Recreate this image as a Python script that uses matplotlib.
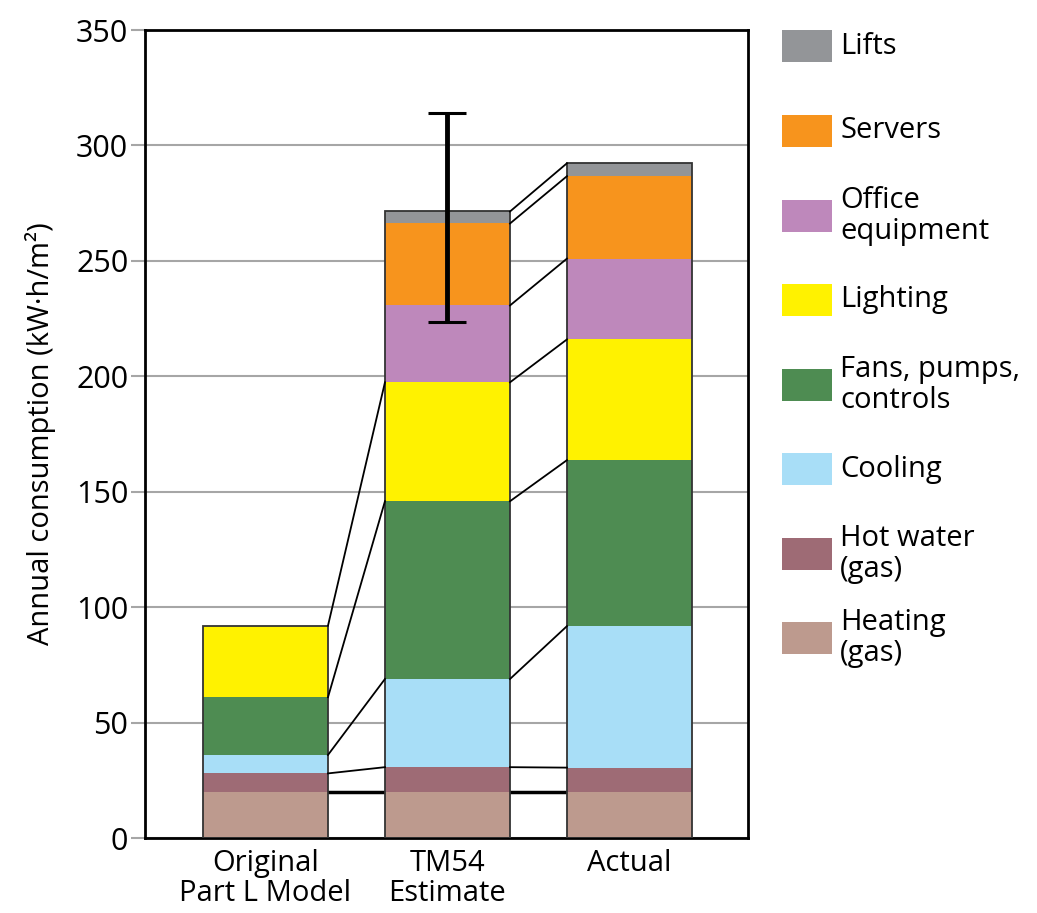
import matplotlib.pyplot as plt
from matplotlib.patches import Rectangle

plt.rcParams['font.family'] = ['Open Sans', 'DejaVu Sans']

scenarios = ["Original\nPart L Model", "TM54\nEstimate", "Actual"]
categories = ["Heating\n(gas)", "Hot water\n(gas)", "Cooling", "Fans, pumps,\ncontrols",
              "Lighting", "Office\nequipment", "Servers", "Lifts"]
colors = ["#bd9a8e", "#9e6b75", "#a8def7", "#4e8c52",
          "#fff200", "#be88bb", "#f7941d", "#939598"]

# segment values per scenario (kW·h/m²), bottom to top
original = [20, 8, 8, 25, 31, 0, 0, 0]
tm54 = [20, 10.7, 38.2, 77, 51.5, 33.3, 35.5, 5.2]
actual = [20, 10.5, 61.3, 71.9, 52.3, 35, 35.7, 5.6]
values = [original, tm54, actual]

err_center = 271.5
err_low = 223.5
err_high = 314

fig = plt.figure(figsize=(10.37, 9.13), dpi=100)
ax = fig.add_axes([0.1398, 0.0821, 0.5815, 0.885])

width = 0.687
tops_all = []
for i, vals in enumerate(values):
    bottom = 0
    tops = []
    for v, c in zip(vals, colors):
        if v > 0:
            ax.bar(i, v, width, bottom=bottom, color=c, edgecolor="none", zorder=2)
        bottom += v
        tops.append(bottom)
    tops_all.append(tops)
    ax.bar(i, bottom, width, fill=False, edgecolor="#333333", linewidth=1.3, zorder=3)

# connecting lines between bars
half = width / 2
n_orig = sum(1 for v in original if v > 0)
for k in range(1, n_orig):
    ax.plot([0 + half, 1 - half], [tops_all[0][k], tops_all[1][k]], color="black", lw=1.3, zorder=3)
for k in range(1, len(categories)):
    ax.plot([1 + half, 2 - half], [tops_all[1][k], tops_all[2][k]], color="black", lw=1.3, zorder=3)
# heating baseline
ax.plot([0 + half, 2 - half], [tops_all[0][0]] * 2, color="black", lw=2.5, zorder=1.5)

# error bar on TM54
ax.errorbar(1, err_center, yerr=[[err_center - err_low], [err_high - err_center]],
            fmt="none", ecolor="black", elinewidth=3.5, capsize=14, capthick=2.2, zorder=4)

ax.set_xlim(-0.662, 2.651)
ax.set_ylim(0, 350)
ax.set_yticks(range(0, 351, 50))
ax.yaxis.grid(True, color="#a6a6a6", lw=1.5, zorder=0)
ax.set_axisbelow(True)
ax.tick_params(axis="y", length=10, width=1.5, color="#a6a6a6", labelsize=22, pad=2)
ax.set_xticks(range(3))
ax.set_xticklabels(scenarios, fontsize=21, linespacing=1.05)
ax.tick_params(axis="x", length=0, pad=8)
for s in ax.spines.values():
    s.set_color("black")
    s.set_linewidth(2)
ax.set_ylabel("Annual consumption (kW·h/m²)", fontsize=21, labelpad=14)

# legend on the right
leg_y = [46, 131, 216, 300, 385, 469, 554, 638]
for name, c, y in zip(categories[::-1], colors[::-1], leg_y):
    fy = 1 - y / 913
    fig.patches.append(Rectangle((782 / 1037, fy - 16 / 913), 50 / 1037, 32 / 913,
                                 transform=fig.transFigure, facecolor=c, edgecolor="none"))
    fig.text(840 / 1037, fy, name, fontsize=21, va="center", ha="left", linespacing=1.1)

fig.savefig("out.png", dpi=100)
